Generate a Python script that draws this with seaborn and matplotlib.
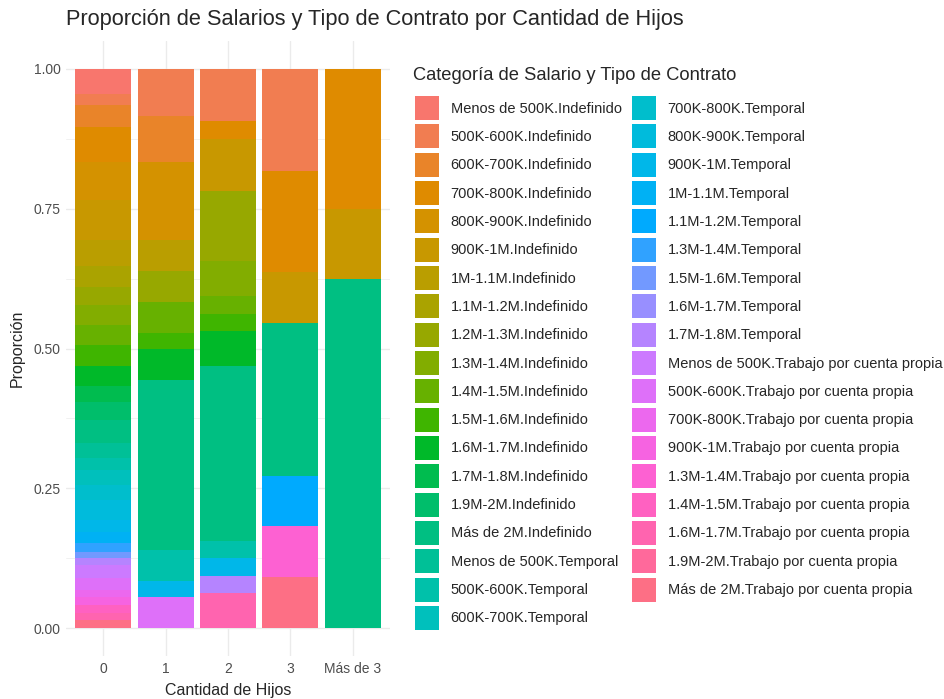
import numpy as np
import pandas as pd
import matplotlib; matplotlib.use("Agg")
import matplotlib.pyplot as plt
from matplotlib.patches import Patch
import seaborn as sns

# categories (legend order, top of stack first)
categorias = [
    "Menos de 500K.Indefinido", "500K-600K.Indefinido", "600K-700K.Indefinido", "700K-800K.Indefinido",
    "800K-900K.Indefinido", "900K-1M.Indefinido", "1M-1.1M.Indefinido", "1.1M-1.2M.Indefinido",
    "1.2M-1.3M.Indefinido", "1.3M-1.4M.Indefinido", "1.4M-1.5M.Indefinido", "1.5M-1.6M.Indefinido",
    "1.6M-1.7M.Indefinido", "1.7M-1.8M.Indefinido", "1.9M-2M.Indefinido", "Más de 2M.Indefinido",
    "Menos de 500K.Temporal", "500K-600K.Temporal", "600K-700K.Temporal", "700K-800K.Temporal",
    "800K-900K.Temporal", "900K-1M.Temporal", "1M-1.1M.Temporal", "1.1M-1.2M.Temporal",
    "1.3M-1.4M.Temporal", "1.5M-1.6M.Temporal", "1.6M-1.7M.Temporal", "1.7M-1.8M.Temporal",
    "Menos de 500K.Trabajo por cuenta propia", "500K-600K.Trabajo por cuenta propia",
    "700K-800K.Trabajo por cuenta propia", "900K-1M.Trabajo por cuenta propia",
    "1.3M-1.4M.Trabajo por cuenta propia", "1.4M-1.5M.Trabajo por cuenta propia",
    "1.6M-1.7M.Trabajo por cuenta propia", "1.9M-2M.Trabajo por cuenta propia",
    "Más de 2M.Trabajo por cuenta propia",
]
hijos = ["0", "1", "2", "3", "Más de 3"]

# share (%) of each category inside each bar, same order as categorias
hijos_0 = [4.5, 2.0, 3.9, 6.3, 6.8, 7.2, 4.5, 3.9, 3.2, 3.6, 3.6, 3.6, 3.6, 3.0, 3.2, 4.1,
           2.7, 2.1, 2.7, 2.7, 3.6, 2.1, 2.0, 0, 1.6, 1.1, 0, 1.3,
           2.3, 2.1, 1.3, 1.4, 0, 1.4, 1.3, 0, 1.4]
hijos_1 = [0, 3, 3, 0, 5, 0, 2, 0, 2, 0, 2, 1, 2, 0, 0, 11,
           0, 2, 0, 0, 0, 1, 0, 0, 0, 0, 0, 0,
           0, 2, 0, 0, 0, 0, 0, 0, 0]
hijos_2 = [0, 3, 0, 1, 0, 3, 0, 0, 4, 2, 1, 1, 2, 0, 0, 10,
           0, 1, 0, 0, 0, 1, 0, 0, 0, 0, 0, 1,
           0, 0, 0, 0, 0, 0, 2, 0, 0]
hijos_3 = [0, 2, 0, 2, 0, 1, 0, 0, 0, 0, 0, 0, 0, 0, 0, 3,
           0, 0, 0, 0, 0, 0, 0, 1, 0, 0, 0, 0,
           0, 0, 0, 0, 1, 0, 0, 0, 1]
hijos_4 = [0, 0, 0, 2, 0, 1, 0, 0, 0, 0, 0, 0, 0, 0, 0, 5,
           0, 0, 0, 0, 0, 0, 0, 0, 0, 0, 0, 0,
           0, 0, 0, 0, 0, 0, 0, 0, 0]


def hcl_color(h, c=100.0, l=65.0):
    # polar Luv -> sRGB, like R's hcl()
    hr = np.deg2rad(h)
    u, v = c * np.cos(hr), c * np.sin(hr)
    xn, yn, zn = 95.047, 100.0, 108.883
    un = 4 * xn / (xn + 15 * yn + 3 * zn); vn = 9 * yn / (xn + 15 * yn + 3 * zn)
    y = yn * ((l + 16) / 116) ** 3 if l > 8 else yn * l / 903.3
    up = u / (13 * l) + un; vp = v / (13 * l) + vn
    x = y * 9 * up / (4 * vp); z = y * (12 - 3 * up - 20 * vp) / (4 * vp)
    xyz = np.array([x, y, z]) / 100
    m = np.array([[3.2404542, -1.5371385, -0.4985314],
                  [-0.9692660, 1.8760108, 0.0415560],
                  [0.0556434, -0.2040259, 1.0572252]])
    rgb = m @ xyz
    rgb = np.where(rgb <= 0.0031308, 12.92 * rgb, 1.055 * np.clip(rgb, 0, None) ** (1 / 2.4) - 0.055)
    return tuple(np.clip(rgb, 0, 1))

n = len(categorias)
paleta = {cat: hcl_color(15 + i * 360 / n) for i, cat in enumerate(categorias)}

rows = []
for xi, vals in enumerate([hijos_0, hijos_1, hijos_2, hijos_3, hijos_4]):
    for cat, v in zip(categorias, vals):
        rows.append({"hijos": xi, "categoria": cat, "valor": v})
df = pd.DataFrame(rows)

sns.set_style("white")
plt.rcParams["font.family"] = ["Liberation Sans", "DejaVu Sans"]

fig = plt.figure(figsize=(9.44, 6.99), dpi=100)
ax = fig.add_axes([66 / 944, 1 - 656 / 699, (390 - 66) / 944, (656 - 41) / 699])

sns.histplot(data=df, x="hijos", hue="categoria", weights="valor", hue_order=categorias,
             palette=paleta, multiple="fill", discrete=True, shrink=0.9, linewidth=0,
             alpha=1, legend=False, ax=ax)

ax.set_xlim(-0.6, 4.6); ax.set_ylim(-0.05, 1.05)
ax.set_xticks(range(len(hijos))); ax.set_xticklabels(hijos)
ax.set_yticks([0, 0.25, 0.5, 0.75, 1.0]); ax.set_yticklabels(["0.00", "0.25", "0.50", "0.75", "1.00"])
ax.set_yticks([0.125, 0.375, 0.625, 0.875], minor=True)
ax.tick_params(axis="both", which="both", length=0, labelsize=10, labelcolor="#4D4D4D", pad=4)
ax.grid(True, which="major", color="#EBEBEB", linewidth=1.0)
ax.grid(True, which="minor", axis="y", color="#EBEBEB", linewidth=0.5)
ax.set_axisbelow(True)
for s in ax.spines.values(): s.set_visible(False)
ax.set_xlabel("Cantidad de Hijos", fontsize=11.5, labelpad=5)
ax.set_ylabel("Proporción", fontsize=11.5, labelpad=6)

fig.text(66 / 944, 1 - 20 / 699, "Proporción de Salarios y Tipo de Contrato por Cantidad de Hijos",
         fontsize=15.7, va="center", ha="left")
fig.text(413 / 944, 1 - 75 / 699, "Categoría de Salario y Tipo de Contrato", fontsize=13.2, va="center", ha="left")

handles = [Patch(facecolor=paleta[c], edgecolor="none", label=c) for c in categorias]
fig.legend(handles=handles, loc="upper left", bbox_to_anchor=(415 / 944, 1 - 96 / 699), ncol=2,
           frameon=False, fontsize=10.5, borderpad=0, borderaxespad=0, handlelength=1.65,
           handleheight=2.15, labelspacing=0.3, handletextpad=0.8, columnspacing=0.7)

fig.savefig("out.png", dpi=100)
